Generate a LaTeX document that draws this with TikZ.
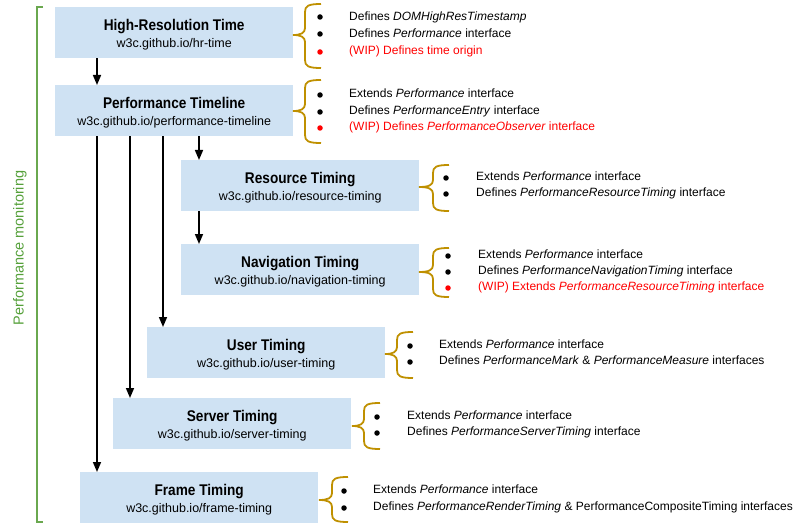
\documentclass[tikz,border=0pt]{standalone}
\usepackage{fontspec}
\setmainfont{Liberation Sans}[BoldFeatures={FakeStretch=0.88}]
\usetikzlibrary{arrows.meta}
\definecolor{boxblue}{HTML}{CFE2F3}
\definecolor{bracegold}{HTML}{BF9000}
\definecolor{grnline}{HTML}{6AA84F}
\definecolor{grntext}{HTML}{55A03A}
\definecolor{wipred}{HTML}{FF0000}
\newcommand\mybrace[5]{%
  \draw[brc] (#1+16,#2) .. controls (#1+3,#2) and (#1,#2+2) .. (#1,#2+8) -- (#1,#5-7) .. controls (#1,#5-2) and (#1-4,#5) .. (#4,#5);
  \draw[brc] (#4,#5) .. controls (#1-4,#5) and (#1,#5+2) .. (#1,#5+7) -- (#1,#3-8) .. controls (#1,#3-2) and (#1+3,#3) .. (#1+16,#3);
}
\tikzset{
  box/.style={fill=boxblue, draw=none, minimum width=238, minimum height=51, anchor=north west, inner sep=0},
  lab/.style={inner sep=0, align=center, font=\fontsize{12.5}{17.5}\selectfont},
  arr/.style={line width=1.5, -{Triangle[width=8,length=10]}},
  brc/.style={draw=bracegold, line width=1.8},
  item/.style={anchor=mid west, inner sep=0, font=\fontsize{12}{14}\selectfont},
  dotb/.style={circle, fill=black, inner sep=0, minimum size=5.5},
  dotr/.style={circle, fill=wipred, inner sep=0, minimum size=5.5},
}
\newcommand\ttl[1]{{\fontsize{15.5}{17.5}\selectfont\bfseries #1}}
\begin{document}
\begin{tikzpicture}[x=1pt,y=-1pt]
\useasboundingbox (0,0) rectangle (809,524);
% green bracket
\draw[grnline, line width=1.5] (43,7) -- (37,7) -- (37,522) -- (43,522);
\node[rotate=90, text=grntext, font=\fontsize{14.5}{16}\selectfont, inner sep=0] (pm) at (20,248) {Performance monitoring};
% boxes
\node[box] (hrt) at (55,7) {};
\node[box] (pt) at (55,85) {};
\node[box] (rt) at (181,160) {};
\node[box] (nt) at (181,244) {};
\node[box] (ut) at (147,327) {};
\node[box] (st) at (113,398) {};
\node[box] (ft) at (80,472) {};
\node[lab] (hrtl) at ([yshift=-2]hrt.center) {\ttl{High-Resolution Time}\\w3c.github.io/hr-time};
\node[lab] (ptl) at ([yshift=-2]pt.center) {\ttl{Performance Timeline}\\w3c.github.io/performance-timeline};
\node[lab] (rtl) at ([yshift=-2]rt.center) {\ttl{Resource Timing}\\w3c.github.io/resource-timing};
\node[lab] (ntl) at ([yshift=-2]nt.center) {\ttl{Navigation Timing}\\w3c.github.io/navigation-timing};
\node[lab] (utl) at ([yshift=-2]ut.center) {\ttl{User Timing}\\w3c.github.io/user-timing};
\node[lab] (stl) at ([yshift=-2]st.center) {\ttl{Server Timing}\\w3c.github.io/server-timing};
\node[lab] (ftl) at ([yshift=-2]ft.center) {\ttl{Frame Timing}\\w3c.github.io/frame-timing};
% arrows
\draw[arr] ([xshift=42]hrt.south west) -- ([xshift=42]hrt.south west |- pt.north);
\draw[arr] ([xshift=42]pt.south west) -- ([xshift=42]pt.south west |- ft.north);
\draw[arr] ([xshift=75]pt.south west) -- ([xshift=75]pt.south west |- st.north);
\draw[arr] ([xshift=108]pt.south west) -- ([xshift=108]pt.south west |- ut.north);
\draw[arr] ([xshift=144]pt.south west) -- ([xshift=144]pt.south west |- rt.north);
\draw[arr] ([xshift=18]rt.south west) -- ([xshift=18]rt.south west |- nt.north);
% braces
\mybrace{305}{4}{68}{293}{35}
\mybrace{305}{80}{143}{293}{111}
\mybrace{433}{165}{211}{419}{187}
\mybrace{433}{248}{297}{419}{272}
\mybrace{397}{332}{378}{385}{354}
\mybrace{364}{403}{449}{352}{426}
\mybrace{332}{477}{522}{319}{500}
% items box 1
\node[dotb] (b11) at (320,17) {};
\node[dotb] (b12) at (320,34) {};
\node[dotr] (b13) at (320,52) {};
\node[item] (t11) at (349,18) {Defines \textit{DOMHighResTimestamp}};
\node[item] (t12) at (349,35) {Defines \textit{Performance} interface};
\node[item, text=wipred] (t13) at (349,52) {(WIP) Defines time origin};
% items box 2
\node[dotb] (b21) at (320,95) {};
\node[dotb] (b22) at (320,112) {};
\node[dotr] (b23) at (320,128) {};
\node[item] (t21) at (349,95) {Extends \textit{Performance} interface};
\node[item] (t22) at (349,112) {Defines \textit{PerformanceEntry} interface};
\node[item, text=wipred] (t23) at (349,128) {(WIP) Defines \textit{PerformanceObserver} interface};
% items box 3
\node[dotb] (b31) at (446,178) {};
\node[dotb] (b32) at (446,194) {};
\node[item] (t31) at (476,178) {Extends \textit{Performance} interface};
\node[item] (t32) at (476,194) {Defines \textit{PerformanceResourceTiming} interface};
% items box 4
\node[dotb] (b41) at (448,256) {};
\node[dotb] (b42) at (448,272) {};
\node[dotr] (b43) at (448,288) {};
\node[item] (t41) at (478,256) {Extends \textit{Performance} interface};
\node[item] (t42) at (478,272) {Defines \textit{PerformanceNavigationTiming} interface};
\node[item, text=wipred] (t43) at (478,288) {(WIP) Extends \textit{PerformanceResourceTiming} interface};
% items box 5
\node[dotb] (b51) at (410,346) {};
\node[dotb] (b52) at (410,362) {};
\node[item] (t51) at (439,346) {Extends \textit{Performance} interface};
\node[item] (t52) at (439,362) {Defines \textit{PerformanceMark} \& \textit{PerformanceMeasure} interfaces};
% items box 6
\node[dotb] (b61) at (377,417) {};
\node[dotb] (b62) at (377,433) {};
\node[item] (t61) at (407,417) {Extends \textit{Performance} interface};
\node[item] (t62) at (407,433) {Defines \textit{PerformanceServerTiming} interface};
% items box 7
\node[dotb] (b71) at (344,491) {};
\node[dotb] (b72) at (344,508) {};
\node[item] (t71) at (373,491) {Extends \textit{Performance} interface};
\node[item] (t72) at (373,508) {Defines \textit{PerformanceRenderTiming} \& PerformanceCompositeTiming interfaces};
\end{tikzpicture}
\end{document}
